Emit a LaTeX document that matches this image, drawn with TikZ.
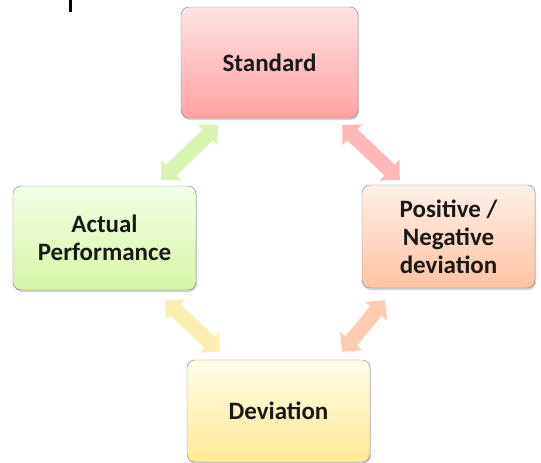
\documentclass[tikz,border=0pt]{standalone}
\usepackage{fontspec}
\setmainfont{Carlito}
\usetikzlibrary{shadows,arrows.meta}
\definecolor{stdtop}{HTML}{FFE2E2}
\definecolor{stdbot}{HTML}{FFA2A2}
\definecolor{acttop}{HTML}{F2FFE6}
\definecolor{actbot}{HTML}{D6F5A6}
\definecolor{postop}{HTML}{FFF0E8}
\definecolor{posbot}{HTML}{FFC2A2}
\definecolor{devtop}{HTML}{FFFDEA}
\definecolor{devbot}{HTML}{FFEA94}
\definecolor{grnarr}{HTML}{D8F4B2}
\definecolor{redarr}{HTML}{FFB8B8}
\definecolor{yelarr}{HTML}{FCEDB0}
\definecolor{orgarr}{HTML}{FFCCB2}

\begin{document}
\begin{tikzpicture}[x=1pt,y=-1pt,
    every node/.style={draw=black!50, rounded corners=8pt, align=center, inner sep=0pt, text=black!90, font=\fontsize{25}{28}\selectfont\bfseries, drop shadow={shadow xshift=1pt, shadow yshift=-2pt, opacity=.35}},
    blockarrow/.style={line width=15pt, {Triangle[width=28pt,length=14pt]}-{Triangle[width=28pt,length=14pt]}}]
    \useasboundingbox (0,0) rectangle (541,463);
    \fill[black] (69,0) rectangle (72,12);
    \node[minimum width=177pt, minimum height=111pt, top color=stdtop, bottom color=stdbot] (std) at (269.5,62.5) {Standard};
    \node[minimum width=183pt, minimum height=104pt, top color=acttop, bottom color=actbot] (act) at (104.5,238) {Actual\\Performance};
    \node[minimum width=173pt, minimum height=103pt, top color=postop, bottom color=posbot] (pos) at (448.5,236.5) {Positive /\\Negative\\deviation};
    \node[minimum width=183pt, minimum height=102pt, top color=devtop, bottom color=devbot] (dev) at (278.5,411) {Deviation};
    \draw[blockarrow, draw=grnarr] ([xshift=37pt,yshift=-7pt]std.south west) -- ([xshift=-35pt,yshift=6pt]act.north east);
    \draw[blockarrow, draw=redarr] ([xshift=-16pt,yshift=-7pt]std.south east) -- ([xshift=38pt,yshift=5pt]pos.north west);
    \draw[blockarrow, draw=yelarr] ([xshift=-31pt,yshift=-10pt]act.south east) -- ([xshift=33pt,yshift=8pt]dev.north west);
    \draw[blockarrow, draw=orgarr] ([xshift=23pt,yshift=-12pt]pos.south west) -- ([xshift=-28pt,yshift=8pt]dev.north east);
\end{tikzpicture}
\end{document}
